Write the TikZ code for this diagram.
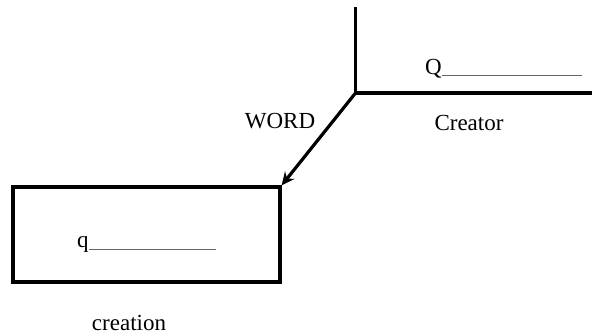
\documentclass[tikz,border=0pt]{standalone}
\usepackage{fontspec}
\setmainfont{Liberation Serif}
\usetikzlibrary{arrows.meta}
\begin{document}
\begin{tikzpicture}[x=1pt,y=-1pt,font=\fontsize{23}{27}\selectfont,
  heavy/.style={line width=3.2pt},
  blank/.style={line width=1pt,black!60}]
\useasboundingbox (0,0) rectangle (592,336);
\coordinate (top) at (355.5,7);
\coordinate (joint) at (355.5,93);
\coordinate (right) at (592,93);
\node[draw,heavy,minimum width=267pt,minimum height=95pt,inner sep=0pt] (box) at (146.5,234.5) {};
\draw[heavy] (top) -- (joint) -- (right);
\draw[heavy,-{Stealth[length=13pt,width=12pt]}] (joint) -- (box.north east);
\node[anchor=base west,inner sep=0pt] (Q) at (425,75) {Q};
\coordinate (Qend) at (582,76);
\draw[blank] (Q.base east) ++(0,1) -- (Qend);
\node (word) at (280,121) {WORD};
\node (creator) at (469,123) {Creator};
\node[anchor=base west,inner sep=0pt] (q) at (77,248) {q};
\coordinate (qend) at (216,250);
\draw[blank] (q.base east) ++(0,2) -- (qend);
\node (creation) at (129,323) {creation};
\end{tikzpicture}
\end{document}
